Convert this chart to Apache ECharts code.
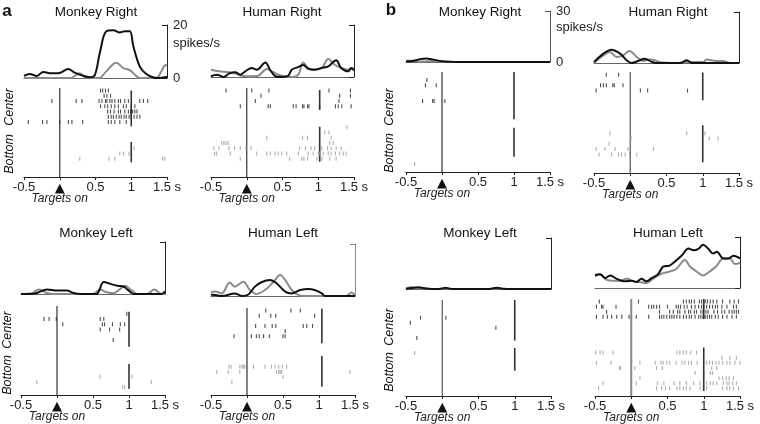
<!DOCTYPE html>
<html><head><meta charset="utf-8">
<script src="https://cdn.jsdelivr.net/npm/echarts@6/dist/echarts.min.js"></script>
<style>html,body{margin:0;padding:0;background:#fff}#c{width:760px;height:424px}</style>
</head><body><div id="c"></div>
<script>
// ---------- DATA ----------
const xTicks = [-0.5, 0, 0.5, 1, 1.5];
const panelTitles = ['Monkey Right','Human Right','Monkey Left','Human Left','Monkey Right','Human Right','Monkey Left','Human Left'];
const scaleMaxA = 20, scaleMaxB = 30;
const eventTimes = [1.0, 1.02, 1.0, 1.04, 1.0, 1.0, 1.0, 1.0];

// PSTH curves: [time (s), spikes/s]
const aMonkeyRightBlack = [[-0.5,0.8],[-0.42,1.5],[-0.32,0.8],[-0.23,2.3],[-0.14,1.8],[-0.02,1.8],[0.12,3.4],[0.21,2.0],[0.33,0.8],[0.42,0.3],[0.49,1.1],[0.56,9.4],[0.65,17.6],[0.75,18.0],[0.84,17.2],[0.91,17.6],[0.98,17.6],[1.03,11.9],[1.12,4.3],[1.21,1.5],[1.30,0.3],[1.37,0],[1.47,0.3],[1.5,0.5]];
const aMonkeyRightGrey = [[-0.5,0],[0.15,0],[0.28,1.8],[0.38,0],[0.55,0],[0.65,2.5],[0.79,5.8],[0.89,3.7],[0.98,3.0],[1.07,0.8],[1.12,0],[1.35,0],[1.42,2.5],[1.48,4.9],[1.5,4.5]];
const aHumanRightBlack = [[-0.5,0.3],[-0.42,0.9],[-0.32,0],[-0.25,1.3],[-0.16,1.8],[-0.09,0.9],[-0.02,2.2],[0.07,3.5],[0.14,2.8],[0.26,5.6],[0.33,2.6],[0.40,0.3],[0.49,0],[0.58,0.5],[0.63,2.8],[0.72,3.8],[0.79,4.6],[0.86,3.1],[0.95,2.8],[1.05,3.5],[1.14,4.1],[1.25,6.4],[1.32,3.5],[1.42,2.2],[1.46,3.5],[1.5,2.6]];
const aHumanRightGrey = [[-0.5,2.8],[-0.39,2.2],[-0.25,1.8],[-0.16,1.3],[-0.07,0.5],[0.07,0.3],[0.16,0.5],[0.28,3.1],[0.35,2.2],[0.44,0.9],[0.53,0.3],[0.63,0],[0.72,0.9],[0.79,5.6],[0.86,3.5],[0.95,2.8],[1.05,3.5],[1.14,6.9],[1.23,4.7],[1.32,3.5],[1.42,2.8],[1.5,3.5]];
const aMonkeyLeftBlack = [[-0.5,0],[-0.35,0],[-0.28,0.4],[-0.14,1.7],[0.0,1.3],[0.14,1.3],[0.23,0.4],[0.33,0],[0.55,0],[0.58,1.0],[0.65,4.6],[0.75,3.8],[0.84,3.2],[0.93,2.8],[0.98,1.7],[1.07,0],[1.45,0],[1.5,1.0]];
const aMonkeyLeftGrey = [[-0.5,0],[-0.35,0.3],[-0.25,1.7],[-0.15,0.5],[-0.05,0],[0.5,0],[0.6,1.7],[0.68,0.8],[0.78,0.3],[0.88,2.0],[0.95,3.2],[1.03,1.5],[1.12,0],[1.25,0],[1.35,1.7],[1.45,0],[1.5,0]];
const aHumanLeftBlack = [[-0.5,0.5],[-0.44,0.4],[-0.35,0],[-0.17,1.0],[-0.07,0],[0.02,0.6],[0.11,3.6],[0.20,5.3],[0.32,6.2],[0.41,4.9],[0.53,1.7],[0.62,1.0],[0.74,2.3],[0.85,2.7],[0.94,2.3],[1.04,1.0],[1.08,0],[1.5,0]];
const aHumanLeftGrey = [[-0.5,1.5],[-0.44,1.7],[-0.35,1.0],[-0.24,5.2],[-0.17,3.6],[-0.05,5.5],[0.04,2.3],[0.13,0.8],[0.25,2.3],[0.37,5.5],[0.46,8.1],[0.53,6.2],[0.62,2.3],[0.71,0.4],[0.8,0],[1.38,0],[1.45,1.3],[1.5,0.3]];
const bMonkeyRightBlack = [[-0.5,0.3],[-0.4,0.6],[-0.3,1.7],[-0.22,2.0],[-0.12,1.4],[0.0,0.4],[0.12,0.1],[0.2,0],[1.5,0]];
const bMonkeyRightGrey = [[-0.5,0.8],[-0.4,0.7],[-0.3,0.3],[-0.2,0.4],[-0.08,0.5],[0.05,0.2],[0.2,0],[1.5,0]];
const bHumanRightBlack = [[-0.5,0.6],[-0.37,5.5],[-0.26,7.8],[-0.14,5.5],[-0.05,1.6],[0.02,0],[0.11,1.2],[0.20,2.5],[0.30,0.6],[0.36,0],[0.69,0],[0.78,1.6],[0.85,0],[1.5,0]];
const bHumanRightGrey = [[-0.5,0],[-0.37,4.5],[-0.28,6.5],[-0.19,3.5],[-0.10,4.5],[-0.01,7.1],[0.09,3.5],[0.18,1.2],[0.27,2.0],[0.34,1.6],[0.41,0.4],[0.64,0],[0.78,0.6],[1.01,0.6],[1.05,2.0],[1.19,1.2],[1.28,1.2],[1.38,0],[1.5,0]];
const bMonkeyLeftBlack = [[-0.5,0.2],[-0.42,0.6],[-0.33,1.0],[-0.22,0.3],[-0.1,0],[0.0,0.3],[0.04,0.8],[0.1,0.2],[0.2,0],[0.65,0],[0.75,0.8],[0.85,0.1],[0.95,0],[1.5,0]];
const bMonkeyLeftGrey = [[-0.5,0.3],[-0.42,1.0],[-0.33,0.5],[-0.2,0.1],[-0.05,0],[0.04,0.4],[0.12,0],[0.7,0],[0.75,0.4],[0.85,0],[1.5,0]];
const bHumanLeftBlack = [[-0.5,7.7],[-0.43,8.1],[-0.36,5.8],[-0.29,7.4],[-0.2,5.4],[-0.09,3.9],[0.01,4.3],[0.07,3.5],[0.14,5.4],[0.21,3.9],[0.28,5.8],[0.37,8.1],[0.44,12.6],[0.53,13.2],[0.60,15.5],[0.70,19.3],[0.79,23.2],[0.86,22.2],[0.93,23.2],[0.99,25.5],[1.06,23.2],[1.13,20.3],[1.18,21.3],[1.27,17.4],[1.34,17.4],[1.41,19.0],[1.5,17.4]];
const bHumanLeftGrey = [[-0.5,6.8],[-0.43,8.1],[-0.34,4.8],[-0.25,4.3],[-0.16,4.3],[-0.06,5.4],[0.03,3.9],[0.12,3.5],[0.21,2.9],[0.28,4.8],[0.40,8.1],[0.53,9.7],[0.62,11.2],[0.74,16.4],[0.81,12.6],[0.90,9.7],[0.99,7.3],[1.08,9.7],[1.17,12.6],[1.27,17.4],[1.36,17.4],[1.43,14.1],[1.5,14.7]];

// Rasters: one list of spike times (s) per trial
const aMonkeyRightCenter = [[0.57,0.60,0.64,0.68],[0.62,0.66,0.71],[-0.11,0.23,0.31,0.55,0.59,0.64,0.66,0.70,0.73,0.77,0.82,0.85,0.91,0.96,1.12,1.17,1.23],[0.57,0.63,0.67,0.72,0.77,0.82,0.89,0.93,1.0,1.05],[0.67,0.71,0.76,0.82,0.85,0.91,0.96,0.99,1.02,1.05,1.08],[0.68,0.72,0.75,0.79,0.83,0.86,0.90,0.93,0.97,1.0,1.04,1.08,1.12],[-0.44,-0.24,-0.18,0.0,0.12,0.17,0.32,0.68,0.72,0.77,0.84,0.93]];
const aMonkeyRightBottom = [[1.04],[0.84,0.89,0.97],[0.28,0.69,0.77,1.44,1.47]];
const aHumanRightCenter = [[-0.29,0.07,0.31,1.15,1.45],[0.20,1.30,1.45],[0.12,1.29],[-0.09,0.30,0.33,0.65,0.69,0.78,0.80,0.85,0.87,1.02,1.24,1.28,1.33,1.46]];
const aHumanRightBottom = [[1.40],[1.09,1.15],[0.28,0.78,0.85,1.18],[-0.35,-0.32,-0.29,-0.26,1.16,1.21],[-0.46,-0.39,-0.25,-0.17,-0.09,-0.01,0.06,0.74,0.82,0.90,0.95,1.05,1.13,1.18,1.25,1.32],[-0.45,-0.42,-0.23,0.14,0.28,0.33,0.40,0.44,0.49,0.56,0.72,0.86,0.93,1.00,1.02,1.07,1.14,1.18,1.24,1.30,1.35,1.39],[-0.09,0.60,0.77,0.80,0.85,0.98,1.05,1.16,1.25]];
const aMonkeyLeftCenter = [[],[0.97],[-0.18,-0.11,-0.01,0.60,0.65],[0.08,0.63,0.66,0.77,0.88,0.94],[0.60,0.73,0.87],[],[0.78]];
const aMonkeyLeftBottom = [[0.60,1.04],[-0.28,1.31],[0.91,0.94]];
const aHumanLeftCenter = [[0.26,0.61,0.74],[0.17,0.33,0.40,0.94],[],[0.12,0.25,0.35,0.40,0.78,0.83,0.91],[0.53],[-0.18,0.06,0.13,0.17,0.23,0.31,0.50,0.53]];
const aHumanLeftBottom = [[-0.25,-0.22,-0.10,-0.07,-0.05,-0.03,0.09,0.25,0.34,0.39,0.44,0.49,0.55],[-0.42,-0.26,-0.10,0.41,0.44,0.46,0.48,1.43],[0.50],[-0.21]];
const bMonkeyRightCenter = [[],[-0.21],[-0.23,-0.08],[],[],[-0.27,-0.13,-0.11,0.04]];
const bMonkeyRightBottom = [[-0.38]];
const bHumanRightCenter = [[-0.33,-0.16],[],[-0.41,-0.37,-0.33,-0.24,-0.22,-0.10],[-0.47,0.14,0.24,0.79]];
const bHumanRightBottom = [[-0.28,0.78,1.03],[0.01,1.09,1.21],[-0.29],[-0.47,-0.35,-0.21,-0.03,0.32],[-0.43,-0.26,-0.16,-0.12,-0.07,-0.01,0.09]];
const bMonkeyLeftCenter = [[],[],[],[-0.30,0.05],[-0.44],[0.74],[],[-0.35]];
const bMonkeyLeftBottom = [[-0.38]];
const bHumanLeftCenter = [[-0.44,0.10,0.72,0.76,0.80,0.83,0.87,0.94,0.97,1.02,1.05,1.09,1.13,1.18,1.26,1.36,1.42,1.48],[-0.48,-0.41,-0.39,-0.21,0.24,0.28,0.31,0.35,0.39,0.50,0.62,0.65,0.68,0.73,0.77,0.83,0.88,0.93,0.97,1.00,1.04,1.08,1.12,1.16,1.19,1.25,1.32,1.41,1.45],[-0.34,0.39,0.53,0.58,0.64,0.67,0.74,0.79,0.82,0.87,0.90,0.96,0.99,1.03,1.06,1.14,1.19,1.25,1.29,1.35,1.39,1.42,1.45,1.48],[-0.48,-0.39,-0.33,-0.27,-0.20,-0.13,-0.03,0.07,0.24,0.39,0.42,0.45,0.49,0.53,0.56,0.59,0.63,0.67,0.72,0.76,0.80,0.83,0.88,0.93,0.96,0.99,1.02,1.05,1.08,1.11,1.16,1.20,1.26,1.32,1.39,1.45]];
const bHumanLeftBottom = [[-0.49,-0.43,-0.39,-0.25,0.63,0.67,0.72,0.76,0.82,0.90],[1.25,1.36,1.45],[-0.48,-0.28,0.12,0.33,0.41,0.44,0.49,0.53,0.62,0.70,0.74,0.79,0.83,0.91,1.04,1.08,1.12,1.17,1.21,1.26,1.32,1.36,1.43,1.50],[-0.16,-0.15,0.05,0.35,0.43,1.11,1.18],[0.88,1.09,1.12],[0.12,1.21,1.26,1.31,1.35,1.41],[-0.39,0.07,0.36,0.45,0.59,0.67,0.76,0.86,0.95,1.04,1.09,1.13,1.18,1.27,1.32,1.35,1.40,1.45],[-0.45,0.35,0.42,0.47,0.53,0.63,0.67,0.72,0.76,0.81,0.95,1.04,1.26,1.32,1.36,1.41,1.48]];

// trial index where the "Bottom" condition starts
const bottomStartTrial = [11, 7, 13, 11, 17, 11, 10, 10];

// ---------- LAYOUT / STYLE ----------
const FONT = '"Liberation Sans", Arial, sans-serif';
const panelData = [
  [aMonkeyRightBlack, aMonkeyRightGrey, aMonkeyRightCenter, aMonkeyRightBottom],
  [aHumanRightBlack, aHumanRightGrey, aHumanRightCenter, aHumanRightBottom],
  [aMonkeyLeftBlack, aMonkeyLeftGrey, aMonkeyLeftCenter, aMonkeyLeftBottom],
  [aHumanLeftBlack, aHumanLeftGrey, aHumanLeftCenter, aHumanLeftBottom],
  [bMonkeyRightBlack, bMonkeyRightGrey, bMonkeyRightCenter, bMonkeyRightBottom],
  [bHumanRightBlack, bHumanRightGrey, bHumanRightCenter, bHumanRightBottom],
  [bMonkeyLeftBlack, bMonkeyLeftGrey, bMonkeyLeftCenter, bMonkeyLeftBottom],
  [bHumanLeftBlack, bHumanLeftGrey, bHumanLeftCenter, bHumanLeftBottom]
];
const layout = [
  {psth:[24,25,143,53],  raster:[24,88,143,89],  rows:17, seg:[[0.5,7.3],[10.3,14.2]], title:[96,12],  scale:scaleMaxA, labels:true,  scaleColor:'#222', zeroColor:'#333', zeroW:1.2},
  {psth:[211,25,143,52], raster:[211,88,143,89], rows:17, seg:[[0.4,4.2],[7.4,14.1]],  title:[282,12], scale:scaleMaxA, labels:false, scaleColor:'#222', zeroColor:'#333', zeroW:1.2},
  {psth:[21,242,144,52], raster:[21,306,144,89], rows:17, seg:[[1.1,7.8],[11.1,15.8]], title:[96,233], scale:scaleMaxA, labels:false, scaleColor:'#222', zeroColor:'#333', zeroW:1.2},
  {psth:[211,244,144,52],raster:[211,308,144,87],rows:17, seg:[[0.1,6.9],[9.4,15.4]],  title:[283,233],scale:scaleMaxA, labels:false, scaleColor:'#888', zeroColor:'#333', zeroW:1.2},
  {psth:[406,11,144,51], raster:[406,72,144,100],rows:19, seg:[[0,9.0],[10.6,16.1]],   title:[480,12], scale:scaleMaxB, labels:true,  scaleColor:'#555', zeroColor:'#333', zeroW:1.2},
  {psth:[594,12,145,51], raster:[594,72,145,101],rows:19, seg:[[0.1,5.3],[10,17]],     title:[668,12], scale:scaleMaxB, labels:false, scaleColor:'#222', zeroColor:'#555', zeroW:1.2},
  {psth:[406,238,145,51],raster:[406,300,145,98],rows:19, seg:[[0,8],[9.5,14]],        title:[480,233],scale:scaleMaxB, labels:false, scaleColor:'#222', zeroColor:'#555', zeroW:1.2},
  {psth:[595,237,145,51],raster:[595,299,145,98],rows:19, seg:[[0,3.9],[9.5,18]],      title:[668,233],scale:scaleMaxB, labels:false, scaleColor:'#222', zeroColor:'#888', zeroW:2}
];

const grid = [], xAxis = [], yAxis = [], series = [], graphic = [];
layout.forEach((L, i) => {
  const [black, grey, center, bottom] = panelData[i];
  const gp = 2*i, gr = 2*i+1;
  const xp = 3*i, xr = 3*i+1;
  grid.push({left:L.psth[0], top:L.psth[1], width:L.psth[2], height:L.psth[3]});
  grid.push({left:L.raster[0], top:L.raster[1], width:L.raster[2], height:L.raster[3]});
  // x axes: 3 per panel (psth baseline, raster time axis, "Targets on" caption axis)
  xAxis.push({gridIndex:gp, type:'value', min:-0.5, max:1.5, axisLine:{show:true, onZero:false, lineStyle:{color:'#666', width:1}}, axisTick:{show:false}, axisLabel:{show:false}, splitLine:{show:false}});
  xAxis.push({gridIndex:gr, type:'value', position:'bottom', min:-0.5, max:1.5, interval:0.5,
    axisLine:{show:true, onZero:false, lineStyle:{color:'#222', width:1}},
    axisTick:{show:true, length:3, lineStyle:{color:'#222'}},
    splitLine:{show:false},
    axisLabel:{show:true, showMinLabel:true, showMaxLabel:true, margin:4, fontSize:13, color:'#222', fontFamily:FONT,
      formatter: v => v === 0 ? '{tri|▲}' : (v === 1.5 ? '1.5 s' : String(v)),
      rich:{tri:{fontSize:13, lineHeight:15, color:'#111', fontFamily:'DejaVu Sans'}}}});
  xAxis.push({gridIndex:gr, type:'value', position:'bottom', min:-0.5, max:1.5, interval:0.5,
    axisLine:{show:false, onZero:false}, axisTick:{show:false}, splitLine:{show:false},
    axisLabel:{show:true, showMinLabel:true, showMaxLabel:true, margin:16, fontSize:12, fontStyle:'italic', color:'#222', fontFamily:FONT,
      formatter: v => v === 0 ? 'Targets on' : ''}});
  yAxis.push({gridIndex:gp, type:'value', position:'right', min:0, max:L.scale, interval:L.scale,
    axisLine:{show:true, onZero:false, lineStyle:{color:L.scaleColor, width:1}},
    axisTick:{show:true, inside:true, length:5, lineStyle:{color:L.scaleColor}},
    splitLine:{show:false},
    axisLabel:{show:L.labels, margin:6, fontSize:13, color:'#222', fontFamily:FONT}});
  yAxis.push({gridIndex:gr, type:'value', inverse:true, min:0, max:L.rows, show:false, splitLine:{show:false}});

  series.push({type:'line', xAxisIndex:xp, yAxisIndex:gp, data:grey, smooth:0.35, showSymbol:false, lineStyle:{color:'#8a8a8a', width:2}, z:2});
  series.push({type:'line', xAxisIndex:xp, yAxisIndex:gp, data:black, smooth:0.35, showSymbol:false, lineStyle:{color:'#111', width:2}, z:3});

  const cPts = [], bPts = [];
  center.forEach((tr, k) => tr.forEach(t => cPts.push([t, k + 0.5])));
  bottom.forEach((tr, k) => tr.forEach(t => bPts.push([t, bottomStartTrial[i] + k + 0.5])));
  series.push({type:'scatter', xAxisIndex:xr, yAxisIndex:gr, data:cPts, symbol:'rect', symbolSize:[1.1,4], itemStyle:{color:'#222'}, z:4});
  series.push({type:'scatter', xAxisIndex:xr, yAxisIndex:gr, data:bPts, symbol:'rect', symbolSize:[1.1,4], itemStyle:{color:'#9a9a9a'}, z:4});
  series.push({type:'line', xAxisIndex:xr, yAxisIndex:gr, data:[[0,0],[0,L.rows]], showSymbol:false, lineStyle:{color:L.zeroColor, width:L.zeroW}, z:3});
  L.seg.forEach(s => series.push({type:'line', xAxisIndex:xr, yAxisIndex:gr, data:[[eventTimes[i], s[0]],[eventTimes[i], s[1]]], showSymbol:false, lineStyle:{color:'#333', width:1.6}, z:3}));

  graphic.push({type:'text', x:L.title[0], y:L.title[1], style:{text:panelTitles[i], font:'13.5px ' + FONT, fill:'#111', align:'center', verticalAlign:'middle', textAlign:'center', textVerticalAlign:'middle'}});
});

const txt = (s, x, y, font, extra) => Object.assign({type:'text', x, y, style:{text:s, font, fill:'#111', align:'center', verticalAlign:'middle', textAlign:'center', textVerticalAlign:'middle'}}, extra || {});
graphic.push(txt('a', 7, 11, 'bold 17px ' + FONT));
graphic.push(txt('b', 391, 10, 'bold 17px ' + FONT));
graphic.push({type:'text', x:173, y:43, style:{text:'spikes/s', font:'13px ' + FONT, fill:'#222', align:'left', verticalAlign:'middle', textAlign:'left', textVerticalAlign:'middle'}});
graphic.push({type:'text', x:556, y:27, style:{text:'spikes/s', font:'13px ' + FONT, fill:'#222', align:'left', verticalAlign:'middle', textAlign:'left', textVerticalAlign:'middle'}});
const rot = {rotation: Math.PI/2};
[[10,107,'Center'],[10,154,'Bottom'],[8,330,'Center'],[8,375,'Bottom'],[390,107,'Center'],[390,153,'Bottom'],[390,327,'Center'],[390,372,'Bottom']]
  .forEach(([x,y,s]) => graphic.push(txt(s, x, y, 'italic 12.5px ' + FONT, rot)));

const chart = echarts.init(document.getElementById('c'), null, {renderer:'canvas'});
chart.setOption({animation:false, backgroundColor:'#fff', grid, xAxis, yAxis, series, graphic});
</script></body></html>
